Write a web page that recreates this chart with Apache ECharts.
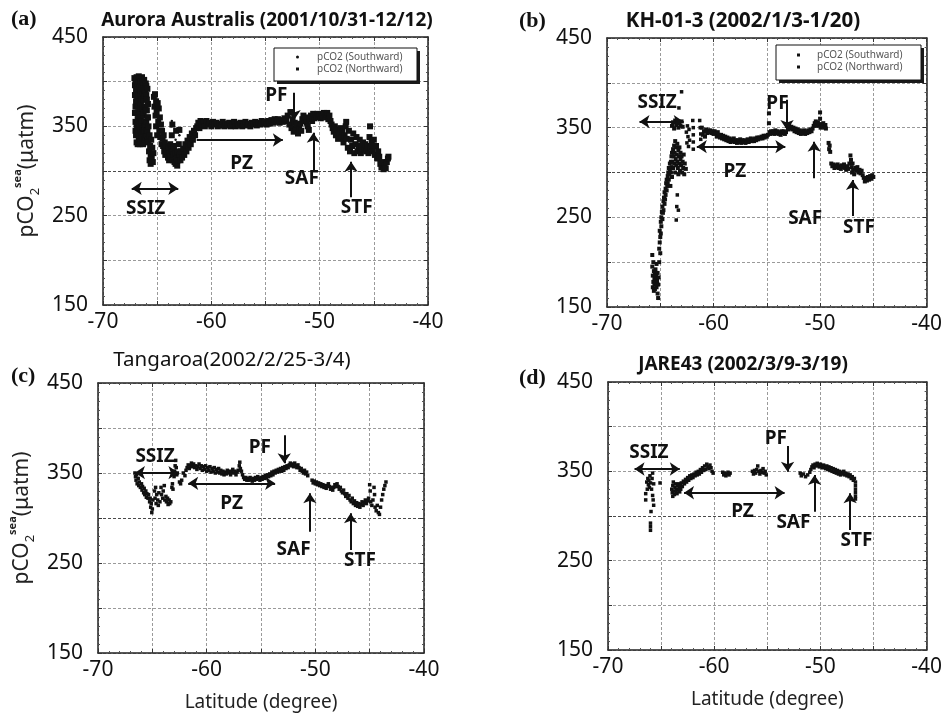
<!DOCTYPE html>
<html>
<head>
<meta charset="utf-8">
<script src="https://cdn.jsdelivr.net/npm/echarts@6/dist/echarts.min.js"></script>
<style>
  html, body { margin: 0; padding: 0; background: #fff; }
  #chart { width: 945px; height: 718px; }
</style>
</head>
<body>
<div id="chart"></div>
<script>
'use strict'

/*----- data -----*/
var latTicks = [-70, -60, -50, -40];
var pco2Ticks = [150, 250, 350, 450];
var panelTitles = ['Aurora Australis (2001/10/31-12/12)', 'KH-01-3 (2002/1/3-1/20)', 'Tangaroa(2002/2/25-3/4)', 'JARE43 (2002/3/9-3/19)'];
var panelLetters = ['(a)', '(b)', '(c)', '(d)'];
var legendNames = ['pCO2 (Southward)', 'pCO2 (Northward)'];

// (a) Aurora Australis
var auroraNorth = [
  [-67.1,404],[-67.05,396],[-67.05,385],[-67.05,365],[-67.0,401],[-67.0,372],[-67.0,355],[-67.0,345],[-66.95,390],[-66.95,378],[-66.95,340],
  [-66.9,405],[-66.9,365],[-66.9,352],[-66.9,332],[-66.85,395],[-66.85,380],[-66.85,348],[-66.8,398],[-66.8,372],[-66.8,358],[-66.8,330],
  [-66.75,400],[-66.75,386],[-66.75,362],[-66.75,342],[-66.7,406],[-66.7,385],[-66.7,372],[-66.7,348],[-66.7,335],[-66.65,392],[-66.65,378],
  [-66.65,352],[-66.65,340],[-66.6,404],[-66.6,395],[-66.6,365],[-66.6,350],[-66.6,330],[-66.55,400],[-66.55,385],[-66.55,370],[-66.55,345],
  [-66.5,400],[-66.5,390],[-66.5,376],[-66.5,360],[-66.5,333],[-66.45,395],[-66.45,380],[-66.45,355],[-66.45,340],[-66.4,405],[-66.4,390],
  [-66.4,370],[-66.4,350],[-66.4,338],[-66.35,400],[-66.35,388],[-66.35,370],[-66.35,348],[-66.3,398],[-66.3,380],[-66.3,362],[-66.3,345],
  [-66.3,330],[-66.25,392],[-66.25,380],[-66.25,365],[-66.2,402],[-66.2,385],[-66.2,355],[-66.2,345],[-66.15,390],[-66.15,372],[-66.15,350],
  [-66.15,335],[-66.1,390],[-66.1,372],[-66.1,338],[-66.05,398],[-66.05,368],[-66.05,352],[-66.0,395],[-66.0,385],[-66.0,355],[-66.0,340],
  [-65.95,380],[-65.95,368],[-65.95,345],[-65.9,392],[-65.9,360],[-65.9,345],[-65.85,375],[-65.85,360],[-65.85,335],[-65.8,350],[-65.8,332],
  [-65.75,322],[-65.7,340],[-65.7,312],[-65.65,328],[-65.6,308],[-65.6,318],[-65.55,335],[-65.5,315],[-65.45,326],[-65.4,310],[-65.35,320],
  [-65.3,383],[-65.25,372],[-65.2,386],[-65.15,362],[-65.1,378],[-65.1,350],[-65.05,366],[-65.0,340],[-64.95,376],[-64.9,355],[-64.85,370],
  [-64.8,345],[-64.75,360],[-64.7,338],[-64.65,352],[-64.6,330],[-64.55,345],[-64.5,336],[-64.45,328],[-64.4,340],[-64.35,322],[-64.3,332],
  [-64.25,318],[-64.2,328],[-64.1,322],[-64.0,315],[-63.95,326],[-63.9,312],[-63.85,320],[-63.8,330],[-63.75,316],[-63.7,324],[-63.65,340],
  [-63.6,352],[-63.6,322],[-63.55,312],[-63.5,318],[-63.45,328],[-63.4,310],[-63.35,320],[-63.3,308],[-63.25,345],[-63.2,314],[-63.15,306],
  [-63.1,322],[-63.05,312],[-63.0,330],[-62.95,346],[-62.9,318],[-62.85,312],[-62.8,322],[-62.7,315],[-62.6,325],[-62.5,318],[-62.4,330],
  [-62.3,322],[-62.2,334],[-62.1,326],[-62.0,338],[-61.9,330],[-61.8,342],[-61.7,335],[-61.6,345],[-61.5,340],[-61.4,348],[-61.3,350],
  [-61.2,354],[-61.1,348],[-61.0,356],[-60.9,352],
  [-60.75,355],[-60.6,350],[-60.45,356],[-60.3,352],[-60.15,354],[-60.0,350],[-59.85,355],[-59.7,352],[-59.55,354],[-59.4,350],[-59.25,353],
  [-59.1,351],[-58.95,355],[-58.8,350],[-58.65,353],[-58.5,351],[-58.35,354],[-58.2,350],[-58.05,352],[-57.9,355],[-57.75,350],[-57.6,353],
  [-57.45,351],[-57.3,354],[-57.15,350],[-57.0,352],[-56.85,355],[-56.7,351],[-56.55,353],[-56.4,350],[-56.25,354],[-56.1,352],[-55.95,355],
  [-55.8,351],[-55.65,354],[-55.5,352],[-55.35,356],[-55.2,353],[-55.05,355],[-54.9,352],[-54.75,356],[-54.6,353],[-54.45,357],[-54.3,354],
  [-54.15,358],[-54.0,355],[-53.85,358],[-53.7,354],[-53.55,357],[-53.4,355],[-53.25,359],[-53.1,356],[-52.95,362],[-52.8,352],[-52.7,366],
  [-52.6,348],[-52.5,358],[-52.4,344],[-52.3,354],[-52.2,346],[-52.1,352],[-52.0,342],[-51.9,348],[-51.8,353],[-51.7,345],[-51.6,358],
  [-51.5,362],[-51.4,356],[-51.3,360],[-51.2,354],[-51.1,350],[-51.0,346],[-50.9,358],[-50.8,362],[-50.7,356],[-50.6,364],[-50.5,359],
  [-50.4,363],[-50.3,360],[-50.2,364],[-50.1,361],[-50.0,363],[-49.9,359],[-49.8,364],[-49.7,361],[-49.6,365],[-49.5,360],[-49.4,363],
  [-49.3,365],[-49.2,358],[-49.1,362],[-49.0,356],[-48.9,352],[-48.8,348],[-48.7,344],[-48.6,350],[-48.5,340],[-48.4,346],[-48.3,336],
  [-48.2,342],[-48.1,348],[-48.0,338],[-47.9,344],[-47.8,332],[-47.7,340],[-47.6,350],[-47.55,355],[-47.5,336],[-47.4,326],[-47.3,345],
  [-47.2,322],[-47.1,335],[-47.0,328],[-46.9,342],[-46.8,320],[-46.7,330],[-46.6,338],[-46.5,322],[-46.4,328],[-46.3,335],[-46.2,320],
  [-46.1,326],[-46.0,332],[-45.9,324],[-45.8,330],[-45.7,322],[-45.6,328],[-45.5,320],[-45.4,338],[-45.35,350],[-45.3,326],[-45.2,332],
  [-45.1,322],[-45.0,335],[-44.9,318],[-44.8,328],[-44.7,314],[-44.6,322],[-44.5,316],[-44.4,308],[-44.3,304],[-44.2,310],[-44.1,302],
  [-44.0,306],[-43.9,303],[-43.8,310],[-43.7,314],[-43.65,316]
];
var auroraSouth = [
  [-66.5,338],[-66.45,342],[-66.4,335],[-66.35,345],[-66.3,338],[-66.25,332],[-66.2,342],[-66.15,336],[-66.1,330],[-66.05,344],[-66.0,337],
  [-65.95,332],[-65.9,340],[-63.7,350],[-63.7,340],[-63.65,356],[-63.3,345],[-63.3,335],[-62.95,340],[-60.5,353],[-58.0,351],[-56.0,353],
  [-54.0,356],[-52.5,352],[-50.0,360],[-48.0,342],[-46.0,330],[-44.5,318]
];

// (b) KH-01-3
var kh013North = [
  [-65.75,208],[-65.75,195],[-65.7,185],[-65.7,172],[-65.65,200],[-65.65,178],[-65.6,190],[-65.6,168],[-65.55,182],[-65.55,175],[-65.5,188],
  [-65.5,170],[-65.45,180],[-65.45,192],[-65.4,176],[-65.4,185],[-65.35,172],[-65.35,198],[-65.3,182],[-65.3,178],[-65.25,188],[-65.25,165],
  [-65.2,175],[-65.2,160],[-65.15,183],[-65.1,200],[-65.1,215],[-65.05,222],[-65.05,235],[-65.0,210],[-65.0,228],[-64.95,245],[-64.95,232],
  [-64.9,250],[-64.9,240],[-64.85,256],[-64.8,248],[-64.8,262],[-64.75,255],[-64.7,268],[-64.7,258],[-64.65,272],[-64.6,265],[-64.6,278],
  [-64.55,270],[-64.5,282],[-64.5,275],[-64.45,288],[-64.4,280],[-64.4,292],[-64.35,285],[-64.3,296],[-64.3,288],[-64.25,300],[-64.2,292],
  [-64.2,305],[-64.15,298],[-64.1,310],[-64.1,302],[-64.05,285],[-64.0,312],[-64.0,300],[-63.95,318],[-63.95,306],[-63.9,322],[-63.9,295],
  [-63.85,312],[-63.8,326],[-63.8,305],[-63.75,318],[-63.7,330],[-63.7,310],[-63.65,322],[-63.6,335],[-63.6,300],[-63.55,315],[-63.5,328],
  [-63.5,308],[-63.45,320],[-63.4,312],[-63.4,332],[-63.35,305],[-63.3,325],[-63.3,298],[-63.25,318],[-63.2,310],[-63.2,328],[-63.15,302],
  [-63.1,322],[-63.1,315],[-63.05,308],[-63.0,318],[-62.95,300],[-62.9,312],[-62.85,305],[-62.8,320],[-62.75,298],[-62.7,310],[-62.6,304],
  [-63.9,352],[-63.8,356],[-63.7,349],[-63.6,358],[-63.5,353],[-63.4,357],[-63.3,350],[-63.2,355],[-63.1,352],[-63.0,357],[-62.9,351],
  [-61.1,350],[-61.0,342],[-60.9,346],[-60.8,340],[-60.7,348],[-60.6,344],[-60.5,347],[-60.4,345],[-60.3,347],[-60.2,344],[-60.1,346],
  [-60.0,343],[-59.9,346],[-59.8,344],[-59.7,340],[-59.6,345],[-59.5,342],[-59.4,339],[-59.3,342],[-59.2,338],[-59.1,341],[-59.0,337],
  [-58.9,340],[-58.8,336],[-58.7,339],[-58.6,335],[-58.5,338],[-58.4,334],[-58.3,337],[-58.2,335],[-58.1,338],[-58.0,334],[-57.9,336],
  [-57.8,333],[-57.7,336],[-57.6,334],[-57.5,337],[-57.4,333],[-57.3,336],[-57.2,334],[-57.1,336],[-57.0,333],[-56.9,335],[-56.8,337],
  [-56.7,334],[-56.6,336],[-56.5,338],[-56.4,335],[-56.3,337],[-56.2,335],[-56.1,338],[-56.0,336],[-55.9,339],[-55.8,337],[-55.7,339],
  [-55.6,338],[-55.5,340],[-55.4,338],[-55.3,341],[-55.2,339],[-55.1,341],[-55.0,340],[-54.9,342],[-54.8,366],[-54.8,355],[-54.75,345],
  [-54.7,343],[-54.6,346],[-54.5,344],[-54.4,346],[-54.3,343],[-54.2,347],[-54.1,344],[-54.0,346],[-53.9,343],[-53.8,345],[-53.7,342],
  [-53.6,346],[-53.5,344],[-53.4,346],[-53.3,343],[-53.2,345],[-53.1,352],[-53.0,348],[-52.9,353],[-52.8,349],[-52.7,351],[-52.6,348],
  [-52.5,350],[-52.4,346],[-52.3,349],[-52.2,345],[-52.1,348],[-52.0,344],[-51.9,347],[-51.8,343],[-51.7,346],[-51.6,344],[-51.5,347],
  [-51.4,343],[-51.3,346],[-51.2,344],[-51.1,347],[-51.0,345],[-50.9,348],[-50.8,346],[-50.7,349],[-50.6,352],[-50.5,355],[-50.4,357],
  [-50.3,352],[-50.2,356],[-50.1,353],[-50.0,367],[-50.0,360],[-49.95,350],[-49.9,354],[-49.8,351],[-49.7,355],[-49.6,350],[-49.5,353],
  [-49.45,349],
  [-49.2,333],[-49.15,326],[-49.1,330],[-49.05,323],[-48.95,310],[-48.85,307],[-48.75,309],[-48.65,305],[-48.55,308],[-48.45,306],[-48.35,309],
  [-48.25,305],[-48.15,307],[-48.05,304],[-47.95,308],[-47.85,306],[-47.75,309],[-47.65,305],[-47.55,303],[-47.45,307],[-47.35,304],[-47.25,310],
  [-47.15,319],[-47.1,314],[-47.05,306],[-47.0,300],[-46.95,310],[-46.9,303],[-46.8,298],[-46.7,305],[-46.6,302],[-46.5,306],[-46.4,300],
  [-46.3,303],[-46.2,299],[-46.1,302],[-46.0,297],[-45.9,294],[-45.8,290],[-45.7,294],[-45.6,291],[-45.5,295],[-45.4,292],[-45.3,296],
  [-45.2,293],[-45.1,297],[-45.0,295]
];
var kh013South = [
  [-63.5,247],[-63.45,262],[-63.4,275],[-63.3,258],[-63.25,372],[-63.0,390],[-62.55,345],[-62.5,333],[-62.45,352],[-62.4,340],[-62.35,329],
  [-62.3,348],[-62.25,336],[-61.95,358],[-61.9,350],[-61.9,342],[-61.9,334],[-61.9,326],[-61.3,358],[-61.25,350],[-61.2,343],[-61.2,337]
];

// (c) Tangaroa
var tangaroa = [
  [-66.6,350],[-66.55,346],[-66.5,342],[-66.45,348],[-66.4,338],[-66.3,344],[-66.25,336],[-66.2,340],[-66.1,334],[-66.0,338],[-65.95,331],
  [-65.9,335],[-65.8,328],[-65.75,333],[-65.7,326],[-65.6,330],[-65.55,323],[-65.5,327],[-65.4,322],[-65.35,326],[-65.25,318],[-65.2,322],
  [-65.15,312],[-65.1,316],[-65.05,306],[-65.0,310],[-64.95,320],[-64.8,330],[-64.75,322],[-64.7,334],[-64.65,316],[-64.6,326],[-64.5,320],
  [-64.45,314],[-64.4,328],[-64.3,318],[-64.2,334],[-64.15,326],[-64.05,322],[-64.0,330],[-63.9,336],[-63.85,320],[-63.75,324],[-63.7,318],
  [-63.6,322],[-63.55,315],[-63.45,320],[-63.4,316],[-63.3,318],[-63.2,334],[-63.15,338],[-63.1,332],[-63.0,346],[-62.95,352],[-62.9,358],
  [-62.85,364],[-62.8,356],[-62.75,348],[-62.7,350],[-62.5,340],[-62.4,338],[-62.3,342],
  [-62.15,350],[-62.0,347],[-61.9,353],[-61.8,356],[-61.7,359],[-61.6,355],[-61.5,358],[-61.4,361],[-61.3,357],[-61.2,360],[-61.1,356],
  [-61.0,358],[-60.9,354],[-60.8,357],[-60.7,360],[-60.6,355],[-60.5,358],[-60.4,353],[-60.3,357],[-60.2,354],[-60.1,358],[-60.0,352],
  [-59.9,356],[-59.8,353],[-59.7,357],[-59.6,351],[-59.5,355],[-59.4,352],[-59.3,356],[-59.2,350],[-59.1,354],[-59.0,351],[-58.9,355],
  [-58.8,350],[-58.7,353],[-58.6,349],[-58.5,352],[-58.4,348],[-58.3,351],[-58.2,349],[-58.1,353],[-58.0,350],[-57.9,352],[-57.8,348],
  [-57.7,351],[-57.6,354],[-57.5,350],[-57.4,352],[-57.3,348],[-57.2,351],[-57.1,353],[-57.0,358],[-56.95,362],[-56.9,355],[-56.8,352],
  [-56.7,348],[-56.6,345],[-56.5,343],[-56.4,345],[-56.3,342],[-56.2,344],[-56.1,342],[-56.0,345],[-55.9,343],[-55.8,341],[-55.7,344],
  [-55.6,342],[-55.5,345],[-55.4,343],[-55.3,346],[-55.2,344],[-55.1,342],[-55.0,345],[-54.9,343],[-54.8,346],[-54.7,344],[-54.6,347],
  [-54.5,345],[-54.4,348],[-54.3,346],[-54.2,349],[-54.1,347],[-54.0,351],[-53.9,348],[-53.8,352],[-53.7,350],[-53.6,353],[-53.5,351],
  [-53.4,354],[-53.3,352],[-53.2,355],[-53.1,352],[-53.0,356],[-52.9,353],[-52.8,357],[-52.7,355],[-52.6,358],[-52.5,356],[-52.4,359],
  [-52.3,361],[-52.2,358],[-52.1,360],[-52.0,357],[-51.9,361],[-51.8,358],[-51.7,356],[-51.6,359],[-51.5,356],[-51.4,353],[-51.3,355],
  [-51.2,352],[-51.1,350],[-51.0,353],[-50.9,349],[-50.8,351],[-50.7,347],
  [-50.3,342],[-50.2,339],[-50.1,341],[-50.0,338],[-49.9,340],[-49.8,337],[-49.7,339],[-49.6,336],[-49.5,338],[-49.4,335],[-49.3,337],
  [-49.2,334],[-49.1,336],[-49.0,333],[-48.9,336],[-48.8,338],[-48.7,335],[-48.6,332],[-48.5,334],[-48.4,331],[-48.3,334],[-48.2,337],
  [-48.1,335],[-48.0,338],[-47.9,335],[-47.8,332],[-47.7,334],[-47.6,330],[-47.5,328],[-47.4,331],[-47.3,327],[-47.2,324],[-47.1,327],
  [-47.0,322],[-46.9,325],[-46.8,320],[-46.7,318],[-46.6,322],[-46.5,316],[-46.4,319],[-46.3,314],[-46.2,317],[-46.1,313],[-46.0,316],
  [-45.9,312],[-45.8,315],[-45.7,318],[-45.6,314],[-45.5,317],[-45.4,320],[-45.3,316],[-45.2,319],[-45.1,322],[-45.0,337],[-44.95,330],
  [-44.9,318],[-44.8,314],[-44.7,320],[-44.6,334],[-44.55,326],[-44.5,312],[-44.4,308],[-44.3,314],[-44.2,306],[-44.1,304],[-44.0,312],
  [-43.9,320],[-43.8,326],[-43.7,332],[-43.6,336],[-43.5,340]
];

// (d) JARE43
var jare43 = [
  [-66.45,325],[-66.45,318],[-66.35,338],[-66.3,330],[-66.25,342],[-66.2,335],[-66.15,340],[-66.1,332],[-66.05,345],[-66.0,337],[-66.0,292],
  [-66.0,288],[-66.0,284],[-65.95,305],[-65.9,330],[-65.85,342],[-65.8,348],[-65.8,323],[-65.75,318],[-65.7,312],[-65.7,336],[-65.1,337],
  [-64.0,330],[-63.95,326],[-63.9,334],[-63.9,322],[-63.85,338],[-63.8,328],[-63.75,324],[-63.7,332],[-63.65,336],[-63.6,327],[-63.55,330],
  [-63.5,325],[-63.45,334],[-63.4,329],[-63.35,336],[-63.3,331],[-63.25,327],[-63.2,334],[-63.15,330],[-63.1,337],[-63.0,333],[-62.9,339],
  [-62.8,336],[-62.7,341],[-62.6,338],[-62.5,343],[-62.4,340],[-62.3,345],[-62.2,342],[-62.1,346],[-62.0,343],[-61.9,347],[-61.8,345],
  [-61.7,349],[-61.6,346],[-61.5,350],[-61.4,347],[-61.3,352],[-61.2,349],[-61.1,354],[-61.0,351],[-60.9,356],[-60.8,352],[-60.7,358],
  [-60.6,355],[-60.5,353],[-60.4,357],[-60.3,354],[-60.2,350],[-60.1,348],
  [-59.2,349],[-59.1,346],[-59.0,348],[-58.9,345],[-58.8,347],[-58.7,349],[-58.6,346],[-58.5,348],
  [-56.4,350],[-56.3,347],[-56.2,351],[-56.1,348],[-56.0,352],[-55.9,356],[-55.8,350],[-55.7,347],[-55.6,351],[-55.5,349],[-55.4,353],
  [-55.3,348],[-55.2,350],[-55.1,346],
  [-51.9,348],[-51.8,345],[-51.6,347],[-51.4,344],[-51.2,346],[-51.0,349],[-50.9,352],[-50.8,355],[-50.7,357],[-50.6,354],[-50.5,358],
  [-50.4,356],[-50.3,359],[-50.2,357],[-50.1,355],[-50.0,358],[-49.9,356],[-49.8,354],[-49.7,357],[-49.6,355],[-49.5,353],[-49.4,356],
  [-49.3,352],[-49.2,355],[-49.1,351],[-49.0,354],[-48.9,350],[-48.8,353],[-48.7,349],[-48.6,352],[-48.5,348],[-48.4,351],[-48.3,347],
  [-48.2,350],[-48.1,346],[-48.0,349],[-47.9,347],[-47.8,350],[-47.7,346],[-47.6,348],[-47.5,345],[-47.4,347],[-47.3,344],[-47.2,346],
  [-47.1,342],[-47.0,344],[-46.9,340],[-46.8,342],[-46.7,338],[-46.7,334],[-46.7,330],[-46.7,326],[-46.7,322],[-46.7,319]
];

// annotations: [startLat, startVal, endLat, endVal, 'both' | 'end'] and [lat, val, text]
var arrowsA = [[-67.35,280.5,-63.05,280.5,'both'],[-61.35,334.7,-53.4,334.7,'end'],[-52.36,387.6,-52.36,357,'end'],[-50.58,301,-50.58,342.8,'end'],[-47.1,270.5,-47.1,310.4,'end']];
var labelsA = [[-66.06,258,'SSIZ'],[-57.2,308.6,'PZ'],[-54.0,384,'PF'],[-51.65,291.8,'SAF'],[-46.58,259.3,'STF']];
var arrowsB = [[-66.95,356.7,-62.8,356.7,'both'],[-61.57,328.8,-53.26,328.8,'both'],[-53.1,381,-53.1,347.4,'end'],[-50.55,293.6,-50.55,334.4,'end'],[-46.95,251.6,-46.95,291.7,'end']];
var labelsB = [[-65.3,377.5,'SSIZ'],[-58.0,301,'PZ'],[-54.0,377,'PF'],[-51.4,249,'SAF'],[-46.35,238,'STF']];
var arrowsC = [[-66.6,350.4,-62.6,350.4,'both'],[-61.7,338.5,-53.7,338.5,'both'],[-52.86,392,-52.86,360.8,'end'],[-50.5,284.8,-50.5,327.4,'end'],[-46.75,264.4,-46.75,305.2,'end']];
var labelsC = [[-64.75,368,'SSIZ'],[-57.7,316.3,'PZ'],[-55.1,378.5,'PF'],[-52.0,265,'SAF'],[-45.9,253,'STF']];
var arrowsD = [[-67.5,352.6,-63.24,352.6,'both'],[-62.84,326,-53.37,326,'both'],[-53.09,378.3,-53.09,349.6,'end'],[-50.55,304.8,-50.55,345.9,'end'],[-47.2,284.3,-47.2,325.4,'end']];
var labelsD = [[-66.15,370.8,'SSIZ'],[-57.34,304.8,'PZ'],[-54.2,387,'PF'],[-52.54,292.4,'SAF'],[-46.6,272,'STF']];

/*----- layout -----*/
var FONT = 'Noto Sans';
var INK = '#111';
var grids = [
  {left: 103, top: 37, width: 325, height: 268},
  {left: 607, top: 38, width: 325, height: 269},
  {left: 98, top: 383, width: 326, height: 270},
  {left: 608, top: 382, width: 327, height: 268}
];

function xAxisFor(i, pos) {
  var main = pos === 'bottom';
  return {
    type: 'value', gridIndex: i, position: pos, min: latTicks[0], max: latTicks[latTicks.length - 1], interval: 5,
    axisLine: {show: true, onZero: false, lineStyle: {color: '#222', width: 1.5}},
    axisTick: {show: true, inside: true, length: 4, lineStyle: {color: '#333'}},
    minorTick: {show: true, splitNumber: 5, length: 2, lineStyle: {color: '#555'}},
    axisLabel: {
      show: main, margin: 7, fontSize: 21, color: '#111', fontFamily: FONT,
      formatter: function (v) { return latTicks.indexOf(v) >= 0 ? String(v) : ''; }
    },
    splitLine: {show: main, lineStyle: {type: [3, 2], color: '#9a9a9a', width: 1}},
    name: (main && i >= 2) ? 'Latitude (degree)' : '',
    nameLocation: 'middle', nameGap: 40,
    nameTextStyle: {fontSize: 19, color: '#222', fontFamily: FONT}
  };
}

function yAxisFor(i, pos) {
  var main = pos === 'left';
  return {
    type: 'value', gridIndex: i, position: pos, min: pco2Ticks[0], max: pco2Ticks[pco2Ticks.length - 1], interval: 50,
    axisLine: {show: true, onZero: false, lineStyle: {color: '#222', width: 1.5}},
    axisTick: {show: true, inside: true, length: 4, lineStyle: {color: '#333'}},
    minorTick: {show: true, splitNumber: 5, length: 2, lineStyle: {color: '#555'}},
    axisLabel: {
      show: main, margin: 15, fontSize: 21, color: '#111', fontFamily: FONT,
      formatter: function (v) { return pco2Ticks.indexOf(v) >= 0 ? String(v) : ''; }
    },
    splitLine: {show: main, lineStyle: {type: [3, 2], color: ['#9a9a9a', '#9a9a9a', '#9a9a9a', '#4a4a4a', '#9a9a9a', '#9a9a9a', '#9a9a9a'], width: 1}},
    name: (main && (i === 0 || i === 2)) ? '{m|pCO}{sb|2}{sp|sea}{m|(μatm)}' : '',
    nameLocation: 'middle', nameRotate: 90, nameGap: 61,
    nameTextStyle: {
      fontFamily: FONT, color: '#222',
      rich: {
        m: {fontSize: 21, fontFamily: FONT, color: '#222', lineHeight: 30},
        sb: {fontSize: 13, fontFamily: FONT, color: '#222', lineHeight: 30, verticalAlign: 'bottom'},
        sp: {fontSize: 11, fontFamily: FONT, color: '#222', lineHeight: 30, verticalAlign: 'top', fontWeight: 'bold'}
      }
    }
  };
}

function markLinesFrom(arrows) {
  return arrows.map(function (a) {
    return [
      {coord: [a[0], a[1]], symbol: a[4] === 'both' ? 'arrow' : 'none'},
      {coord: [a[2], a[3]], symbol: 'arrow'}
    ];
  });
}

function markPointsFrom(labels) {
  return labels.map(function (l) {
    return {coord: [l[0], l[1]], name: l[2]};
  });
}

function annotate(arrows, labels) {
  return {
    markLine: {
      silent: true, animation: false, symbolSize: 10,
      label: {show: false},
      lineStyle: {color: '#111', width: 2, type: 'solid'},
      emphasis: {disabled: true},
      data: markLinesFrom(arrows)
    },
    markPoint: {
      silent: true, animation: false, symbol: 'circle', symbolSize: 1,
      itemStyle: {color: 'rgba(0,0,0,0)'},
      label: {show: true, position: 'inside', formatter: '{b}', fontSize: 19, fontWeight: 'bold', color: '#111', fontFamily: FONT},
      data: markPointsFrom(labels)
    }
  };
}

function scatter(name, i, data, symbol, size, extra) {
  var s = {
    name: name, type: 'scatter', xAxisIndex: i * 2, yAxisIndex: i * 2,
    data: data, symbol: symbol, symbolSize: size, animation: false, silent: true,
    itemStyle: {color: INK, opacity: 1}
  };
  if (extra) { s.markLine = extra.markLine; s.markPoint = extra.markPoint; }
  return s;
}

var xAxes = [], yAxes = [];
for (var i = 0; i < 4; i++) {
  xAxes.push(xAxisFor(i, 'bottom'), xAxisFor(i, 'top'));
  yAxes.push(yAxisFor(i, 'left'), yAxisFor(i, 'right'));
}

var titleStyles = [[262, 6, 'bold', 19], [738, 6, 'bold', 20.5], [227, 345, 'normal', 20.5], [738, 350, 'bold', 19]];
var letterPos = [[6, 3], [514, 5], [6, 360], [514, 362]];
var titles = [];
for (var t = 0; t < 4; t++) {
  titles.push({
    text: panelTitles[t], left: titleStyles[t][0], top: titleStyles[t][1], textAlign: 'center',
    textStyle: {fontSize: titleStyles[t][3], fontWeight: titleStyles[t][2], color: '#111', fontFamily: FONT}
  });
  titles.push({
    text: panelLetters[t], left: letterPos[t][0], top: letterPos[t][1],
    textStyle: {fontSize: 22, fontWeight: 'bold', color: '#111', fontFamily: 'Liberation Serif'}
  });
}

// legend frames: box with a solid drop shadow on the right and bottom
var legendBoxes = [[274, 48, 143, 33], [776, 45, 145, 35]];
var frames = [];
legendBoxes.forEach(function (b) {
  frames.push({type: 'rect', z: 10, shape: {x: b[0] + 3, y: b[1] + 3, width: b[2], height: b[3]}, style: {fill: '#1a1a1a'}, silent: true});
  frames.push({type: 'rect', z: 11, shape: {x: b[0], y: b[1], width: b[2], height: b[3]}, style: {fill: '#fff', stroke: '#111', lineWidth: 1}, silent: true});
});

function legendAt(left, top, southIcon, northIcon, textPad) {
  return {
    left: left, top: top, orient: 'vertical', itemGap: 2, itemWidth: 3, itemHeight: 3,
    padding: 0, z: 20, selectedMode: false,
    textStyle: {fontSize: 10, color: '#555', fontFamily: FONT, padding: [0, 0, 0, textPad]},
    data: [
      {name: legendNames[0], icon: southIcon, itemStyle: {color: INK}},
      {name: legendNames[1], icon: northIcon, itemStyle: {color: INK}}
    ]
  };
}

var option = {
  backgroundColor: '#fff',
  animation: false,
  title: titles,
  graphic: frames,
  legend: [
    legendAt(296, 52, 'circle', 'rect', 13),
    legendAt(797, 50, 'rect', 'rect', 12)
  ],
  grid: grids,
  xAxis: xAxes,
  yAxis: yAxes,
  series: [
    scatter(legendNames[0], 0, auroraSouth, 'circle', 2.5),
    scatter(legendNames[1], 0, auroraNorth, 'rect', 6, annotate(arrowsA, labelsA)),
    scatter(legendNames[0], 1, kh013South, 'rect', 3.5),
    scatter(legendNames[1], 1, kh013North, 'rect', 4, annotate(arrowsB, labelsB)),
    scatter('Tangaroa', 2, tangaroa, 'rect', 3.5, annotate(arrowsC, labelsC)),
    scatter('JARE43', 3, jare43, 'rect', 3.5, annotate(arrowsD, labelsD))
  ]
};

var chart = echarts.init(document.getElementById('chart'));
chart.setOption(option);
</script>
</body>
</html>
